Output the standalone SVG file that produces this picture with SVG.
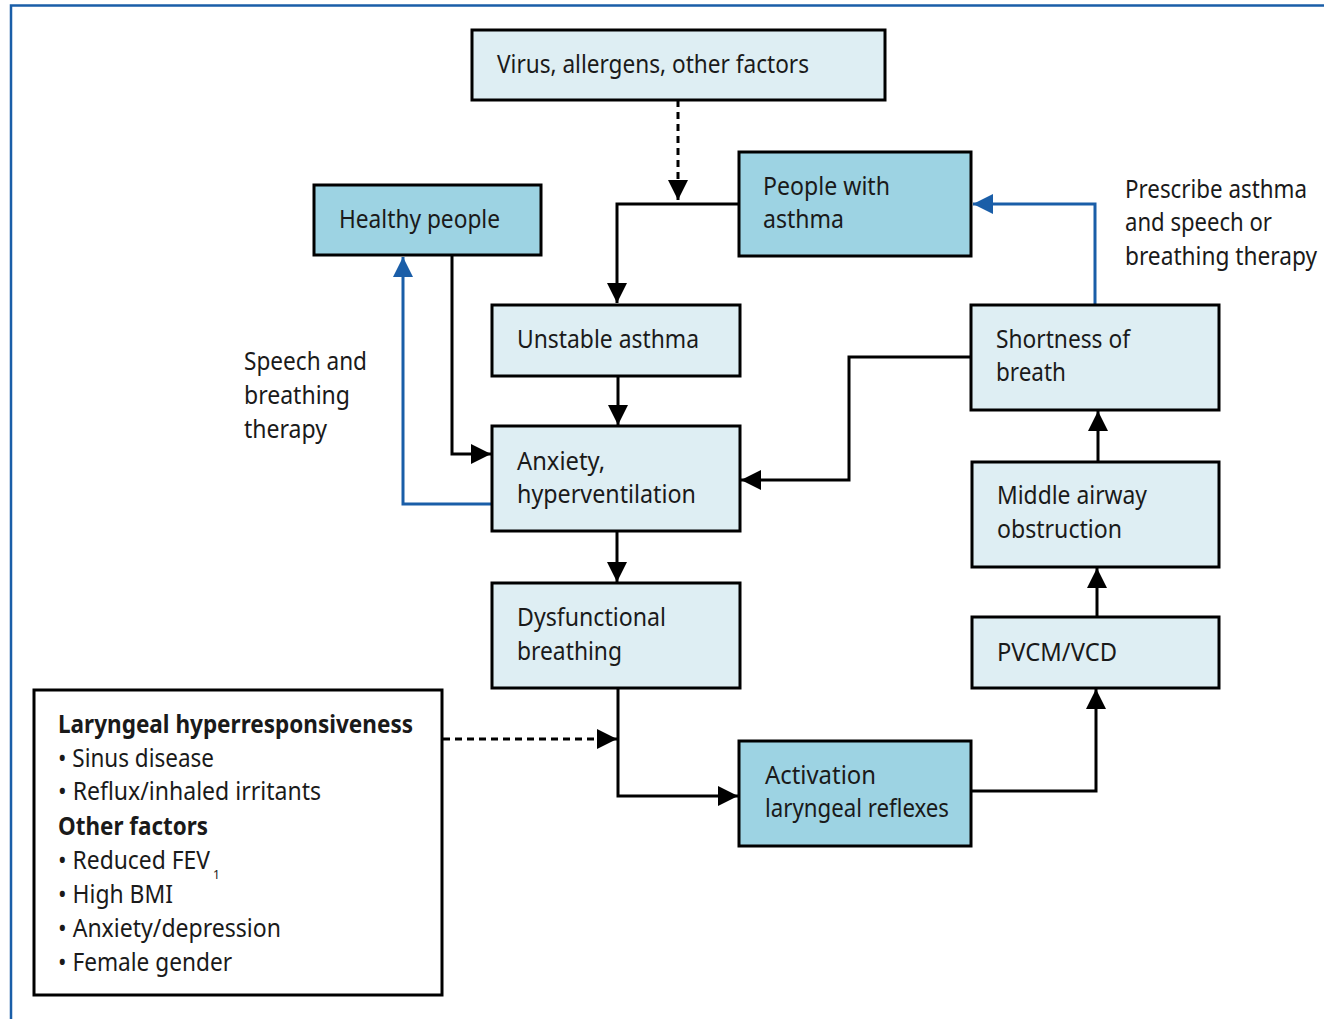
<svg xmlns="http://www.w3.org/2000/svg" width="1324" height="1019" viewBox="0 0 1324 1019">
<style>
.t{font-family:"Noto Sans","Open Sans","DejaVu Sans",sans-serif;font-size:25px;fill:#1a1a1a}
.b{font-weight:bold}
.lt{fill:#deeef3;stroke:#000;stroke-width:3}
.dk{fill:#9dd3e3;stroke:#000;stroke-width:3}
.wh{fill:#fff;stroke:#000;stroke-width:3}
.c{fill:none;stroke:#000;stroke-width:3}
.d{stroke-dasharray:7,5}
.bl{fill:none;stroke:#1a5ea8;stroke-width:3}
</style>
<defs>
<marker id="ak" viewBox="0 0 20 20" refX="20" refY="10" markerWidth="20" markerHeight="20" markerUnits="userSpaceOnUse" orient="auto"><path d="M0,0 L20,10 L0,20 Z" fill="#000"/></marker>
<marker id="ab" viewBox="0 0 20 20" refX="20" refY="10" markerWidth="20" markerHeight="20" markerUnits="userSpaceOnUse" orient="auto"><path d="M0,0 L20,10 L0,20 Z" fill="#1a5ea8"/></marker>
</defs>
<rect width="1324" height="1019" fill="#fff"/>
<path d="M11,1019 V5.5 H1324" fill="none" stroke="#1a5ea8" stroke-width="2.5"/>

<g id="connectors">
<path class="c d" d="M678,100 V200" marker-end="url(#ak)"/>
<path class="c" d="M739,204 H617 V303" marker-end="url(#ak)"/>
<path class="c" d="M618,376 V425" marker-end="url(#ak)"/>
<path class="c" d="M452,255 V454 H491" marker-end="url(#ak)"/>
<path class="bl" d="M492,504 H403 V257" marker-end="url(#ab)"/>
<path class="c" d="M971,357 H849 V480 H741" marker-end="url(#ak)"/>
<path class="bl" d="M1095,305 V204 H973" marker-end="url(#ab)"/>
<path class="c" d="M617,531 V582" marker-end="url(#ak)"/>
<path class="c" d="M618,688 V796 H738" marker-end="url(#ak)"/>
<path class="c d" d="M443,739 H617" marker-end="url(#ak)"/>
<path class="c" d="M971,791 H1096 V689" marker-end="url(#ak)"/>
<path class="c" d="M1097,617 V568" marker-end="url(#ak)"/>
<path class="c" d="M1098,462 V411" marker-end="url(#ak)"/>
</g>

<g id="virus"><rect class="lt" x="472" y="30" width="413" height="70"/>
<text class="t" x="497" y="73" textLength="312" lengthAdjust="spacingAndGlyphs">Virus, allergens, other factors</text></g>

<g id="people-asthma"><rect class="dk" x="739" y="152" width="232" height="104"/>
<text class="t" x="763" y="195" textLength="127" lengthAdjust="spacingAndGlyphs">People with</text>
<text class="t" x="763" y="228" textLength="81" lengthAdjust="spacingAndGlyphs">asthma</text></g>

<g id="healthy"><rect class="dk" x="314" y="185" width="227" height="70"/>
<text class="t" x="339" y="228" textLength="161" lengthAdjust="spacingAndGlyphs">Healthy people</text></g>

<g id="unstable"><rect class="lt" x="492" y="305" width="248" height="71"/>
<text class="t" x="517" y="348" textLength="182" lengthAdjust="spacingAndGlyphs">Unstable asthma</text></g>

<g id="anxiety"><rect class="lt" x="492" y="426" width="248" height="105"/>
<text class="t" x="517" y="470" textLength="88" lengthAdjust="spacingAndGlyphs">Anxiety,</text>
<text class="t" x="517" y="503" textLength="179" lengthAdjust="spacingAndGlyphs">hyperventilation</text></g>

<g id="dysfunctional"><rect class="lt" x="492" y="583" width="248" height="105"/>
<text class="t" x="517" y="626" textLength="149" lengthAdjust="spacingAndGlyphs">Dysfunctional</text>
<text class="t" x="517" y="660" textLength="105" lengthAdjust="spacingAndGlyphs">breathing</text></g>

<g id="shortness"><rect class="lt" x="971" y="305" width="248" height="105"/>
<text class="t" x="996" y="348" textLength="134" lengthAdjust="spacingAndGlyphs">Shortness of</text>
<text class="t" x="996" y="381" textLength="70" lengthAdjust="spacingAndGlyphs">breath</text></g>

<g id="middle"><rect class="lt" x="972" y="462" width="247" height="105"/>
<text class="t" x="997" y="504" textLength="150" lengthAdjust="spacingAndGlyphs">Middle airway</text>
<text class="t" x="997" y="538" textLength="125" lengthAdjust="spacingAndGlyphs">obstruction</text></g>

<g id="pvcm"><rect class="lt" x="972" y="617" width="247" height="71"/>
<text class="t" x="997" y="661" textLength="120" lengthAdjust="spacingAndGlyphs">PVCM/VCD</text></g>

<g id="activation"><rect class="dk" x="739" y="741" width="232" height="105"/>
<text class="t" x="765" y="784" textLength="111" lengthAdjust="spacingAndGlyphs">Activation</text>
<text class="t" x="765" y="817" textLength="184" lengthAdjust="spacingAndGlyphs">laryngeal reflexes</text></g>

<g id="label-speech">
<text class="t" x="244" y="370" textLength="123" lengthAdjust="spacingAndGlyphs">Speech and</text>
<text class="t" x="244" y="404" textLength="106" lengthAdjust="spacingAndGlyphs">breathing</text>
<text class="t" x="244" y="438" textLength="83" lengthAdjust="spacingAndGlyphs">therapy</text></g>

<g id="label-prescribe">
<text class="t" x="1125" y="198" textLength="182" lengthAdjust="spacingAndGlyphs">Prescribe asthma</text>
<text class="t" x="1125" y="231" textLength="147" lengthAdjust="spacingAndGlyphs">and speech or</text>
<text class="t" x="1125" y="265" textLength="192" lengthAdjust="spacingAndGlyphs">breathing therapy</text></g>

<g id="factors"><rect class="wh" x="34" y="690" width="408" height="305"/>
<text class="t b" x="58" y="733" textLength="355" lengthAdjust="spacingAndGlyphs">Laryngeal hyperresponsiveness</text>
<text class="t" x="58" y="767" textLength="156" lengthAdjust="spacingAndGlyphs">• Sinus disease</text>
<text class="t" x="58" y="800" textLength="263" lengthAdjust="spacingAndGlyphs">• Reflux/inhaled irritants</text>
<text class="t b" x="58" y="835" textLength="150" lengthAdjust="spacingAndGlyphs">Other factors</text>
<text class="t" x="58" y="869" textLength="152" lengthAdjust="spacingAndGlyphs">• Reduced FEV</text>
<text class="t" x="213" y="879" style="font-size:12px">1</text>
<text class="t" x="58" y="903" textLength="115" lengthAdjust="spacingAndGlyphs">• High BMI</text>
<text class="t" x="58" y="937" textLength="223" lengthAdjust="spacingAndGlyphs">• Anxiety/depression</text>
<text class="t" x="58" y="971" textLength="174" lengthAdjust="spacingAndGlyphs">• Female gender</text></g>
</svg>
